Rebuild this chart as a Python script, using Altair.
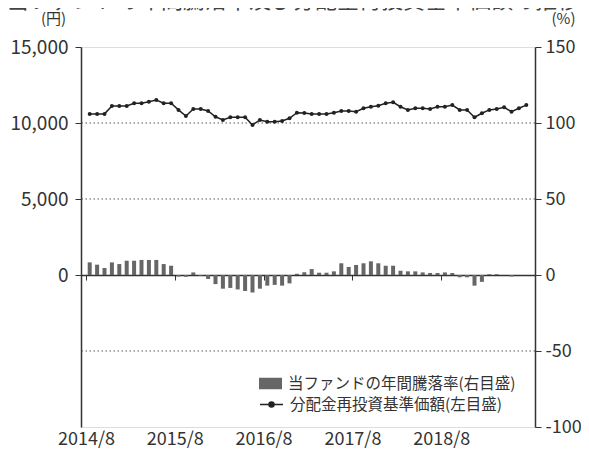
import altair as alt
import pandas as pd

# ---- data ----
x_labels = ["2014/8", "2015/8", "2016/8", "2017/8", "2018/8"]
x_label_pos = [0, 12, 24, 36, 48]

nav = [10600, 10600, 10600, 11120, 11120, 11120, 11300, 11300, 11400, 11510,
       11300, 11300, 10860, 10460, 10920, 10920, 10790, 10410, 10200, 10380,
       10380, 10380, 9870, 10200, 10090, 10090, 10130, 10310, 10680, 10660,
       10600, 10600, 10600, 10680, 10790, 10790, 10740, 10970, 11070, 11140,
       11300, 11360, 11070, 10860, 10970, 10970, 10920, 11070, 11070, 11180,
       10860, 10860, 10380, 10640, 10860, 10920, 11030, 10740, 10970, 11180]

ret = [8.3, 6.8, 4.6, 8.3, 7.2, 9.4, 9.4, 9.9, 9.9, 9.9,
       7.2, 6.1, -1.0, -1.2, 1.7, -0.5, -2.6, -6.0, -9.0, -8.5,
       -9.5, -10.5, -11.5, -9.0, -7.0, -6.5, -7.0, -5.5, 0.8, 1.8,
       3.9, 1.5, 1.5, 2.4, 7.7, 5.3, 6.6, 7.7, 9.0, 7.7,
       6.1, 6.1, 2.8, 2.4, 2.4, 1.7, 1.3, 1.3, 1.7, 1.3,
       -1.5, -1.5, -7.0, -4.5, 0.5, 0.5, 0.0, -1.0, 0.0, 0.0]

left_ticks = [0, 5000, 10000, 15000]
right_ticks = [-100, -50, 0, 50, 100, 150]
grid_pct = [-50, 50, 100]

series_bar = "当ファンドの年間騰落率(右目盛)"
series_line = "分配金再投資基準価額(左目盛)"
title_text = "当ファンドの年間騰落率及び分配金再投資基準価額の推移"

FONT = "Noto Sans CJK JP"
TXT = "#333333"

df = pd.DataFrame({"m": [i + 0.5 for i in range(len(nav))], "nav": nav, "ret": ret})
df["s_bar"] = series_bar
df["s_line"] = series_line
grid_df = pd.DataFrame({"g": grid_pct})
title_df = pd.DataFrame({"t": [title_text]})

W, H = 454, 380
xscale = alt.Scale(domain=[0, 60], nice=False, zero=False)
pscale = alt.Scale(domain=[-100, 150], nice=False)
yscale = alt.Scale(domain=[-10000, 15000], nice=False)

label_expr = "[" + ",".join("'%s'" % l for l in x_labels) + "][round(datum.value/12)]"

x_zero_axis = alt.Axis(orient="bottom", offset=-152, values=x_label_pos, labels=False,
                       ticks=True, tickSize=5, tickColor=TXT, tickWidth=1,
                       domain=True, domainColor=TXT, domainWidth=1.5, grid=False, title=None)
x_label_axis = alt.Axis(orient="bottom", values=x_label_pos, labelExpr=label_expr,
                        ticks=False, domain=False, grid=False, labelFontSize=18,
                        labelColor=TXT, labelPadding=3, labelFlush=False, title=None)
pct_axis = alt.Axis(orient="right", values=right_ticks, labelExpr="datum.value + ''",
                    tickSize=6, tickColor=TXT,
                    domain=True, domainColor=TXT, domainWidth=1.5, grid=False,
                    labelFontSize=18, labelColor=TXT, labelPadding=4,
                    title="(%)", titleAngle=0, titleX=28, titleY=-29, titleAlign="center",
                    titleBaseline="middle", titleFontSize=15, titleFontWeight="normal",
                    titleColor=TXT)
yen_axis = alt.Axis(orient="left", values=left_ticks, labelExpr="format(datum.value, ',')",
                    tickSize=6, tickColor=TXT,
                    domain=True, domainColor=TXT, domainWidth=1.5, grid=False,
                    labelFontSize=19, labelColor=TXT, labelPadding=7,
                    title="(円)", titleAngle=0, titleX=-28, titleY=-29, titleAlign="center",
                    titleBaseline="middle", titleFontSize=15, titleFontWeight="normal",
                    titleColor=TXT)

grid = alt.Chart(grid_df).mark_rule(color="#555555", strokeDash=[1.5, 2.5], strokeWidth=1).encode(
    y=alt.Y("g:Q", scale=pscale, axis=pct_axis)
)

bars = alt.Chart(df).mark_bar(size=4).encode(
    x=alt.X("m:Q", scale=xscale, axis=x_zero_axis),
    y=alt.Y("ret:Q", scale=pscale, axis=pct_axis),
    fill=alt.Fill("s_bar:N", scale=alt.Scale(range=["#666666"]),
                  legend=alt.Legend(orient="none", legendX=178, legendY=325, title=None,
                                    symbolType="M-1,-0.5H1V0.5H-1Z", symbolSize=529,
                                    symbolStrokeWidth=0, labelFontSize=15.5, labelColor=TXT,
                                    labelFont=FONT, padding=0, labelOffset=6,
                                    labelLimit=400)),
)

line = alt.Chart(df).mark_line(strokeWidth=1.5).encode(
    x=alt.X("m:Q", scale=xscale, axis=x_label_axis),
    y=alt.Y("nav:Q", scale=yscale, axis=yen_axis),
    stroke=alt.Stroke("s_line:N", scale=alt.Scale(range=["#222222"]),
                      legend=alt.Legend(orient="none", legendX=178, legendY=345, title=None,
                                        symbolType="M-1,0H1M-0.22,0A0.22,0.22,0,1,1,0.22,0A0.22,0.22,0,1,1,-0.22,0",
                                        symbolSize=529, symbolStrokeWidth=1.5,
                                        symbolFillColor="#222222", labelFontSize=15.5,
                                        labelColor=TXT, labelFont=FONT, padding=0,
                                        labelOffset=6, labelLimit=400)),
)

pts = alt.Chart(df).mark_point(filled=True, size=16, color="#222222", opacity=1).encode(
    x=alt.X("m:Q", scale=xscale, axis=x_label_axis),
    y=alt.Y("nav:Q", scale=yscale, axis=yen_axis),
)

title = alt.Chart(title_df).mark_text(fontSize=22, color="#444444", align="center",
                                       baseline="alphabetic", font=FONT).encode(
    text="t:N", x=alt.value(212), y=alt.value(-39.5)
)

chart = alt.layer(
    alt.layer(grid, bars),
    alt.layer(line, pts),
    title,
).resolve_scale(y="independent").resolve_axis(x="independent").properties(
    width=W, height=H,
    padding={"left": 73, "top": 39, "right": 46, "bottom": 23},
    autosize=alt.AutoSizeParams(type="none"),
).configure_view(stroke=TXT, strokeWidth=1.5).configure(font=FONT).configure_axis(
    labelFont=FONT, titleFont=FONT
).configure_legend(labelFont=FONT)

chart.save("out.html", embed_options={"renderer": "svg", "actions": False})
